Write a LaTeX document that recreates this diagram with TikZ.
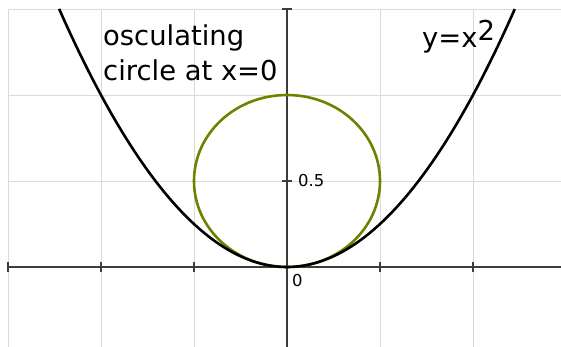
\documentclass[tikz,border=0pt]{standalone}
\usepackage{fontspec}
\setmainfont{DejaVu Sans}
\usetikzlibrary{shapes.geometric}
\definecolor{circcol}{RGB}{107,132,0}
\definecolor{gridcol}{RGB}{218,218,218}
\definecolor{axiscol}{RGB}{60,60,60}
\tikzset{
  gridline/.style={gridcol, line width=0.8bp},
  axisline/.style={axiscol, line width=1.1bp},
  tickmark/.style={axiscol, line width=1.1bp},
  bigtext/.style={font=\fontsize{27.5}{35}\selectfont, inner sep=0pt},
  smalltext/.style={font=\fontsize{16.5}{19}\selectfont, inner sep=0pt}
}
\begin{document}
\begin{tikzpicture}[x=186bp,y=172bp]
\useasboundingbox[fill=white] (-287/186,-80/172) rectangle (274/186,267/172);
% grid
\foreach \gx in {-1.5,-1,-0.5,0.5,1}
  \draw[gridline] (\gx,-80/172) -- (\gx,1.5);
\foreach \gy in {0.5,1,1.5}
  \draw[gridline] (-1.5,\gy) -- (274/186,\gy);
% axes
\coordinate (xl) at (-1.5,0);
\coordinate (xr) at (274/186,0);
\coordinate (yb) at (0,-80/172);
\coordinate (yt) at (0,1.5);
\draw[axisline] (xl) -- (xr);
\draw[axisline] (yb) -- (yt);
\foreach \tx in {-1.5,-1,-0.5,0.5,1}
  \draw[tickmark] (\tx,-5/172) -- (\tx,5/172);
\foreach \ty in {0.5,1,1.5}
  \draw[tickmark] (-5/186,\ty) -- (5/186,\ty);
% circle
\node[draw=circcol, line width=2.6bp, ellipse, minimum width=186bp, minimum height=172bp, inner sep=0pt] (osc) at (0,0.5) {};
% parabola
\draw[black, line width=2.6bp, domain=-1.225:1.225, samples=120, smooth] plot (\x,{\x*\x});
% labels
\node[smalltext, anchor=west] (lhalf) at (11/186,0.5) {0.5};
\node[smalltext, anchor=north west] (lzero) at (5/186,-7/172) {0};
\node[bigtext, anchor=base west] (t1) at (-184/186,222/172) {osculating};
\node[bigtext, anchor=base west] (t2) at (-184/186,187/172) {circle at x=0};
\node[bigtext, anchor=base west] (t3) at (135/186,219/172) {y=x\raisebox{7bp}{2}};
\end{tikzpicture}
\end{document}
